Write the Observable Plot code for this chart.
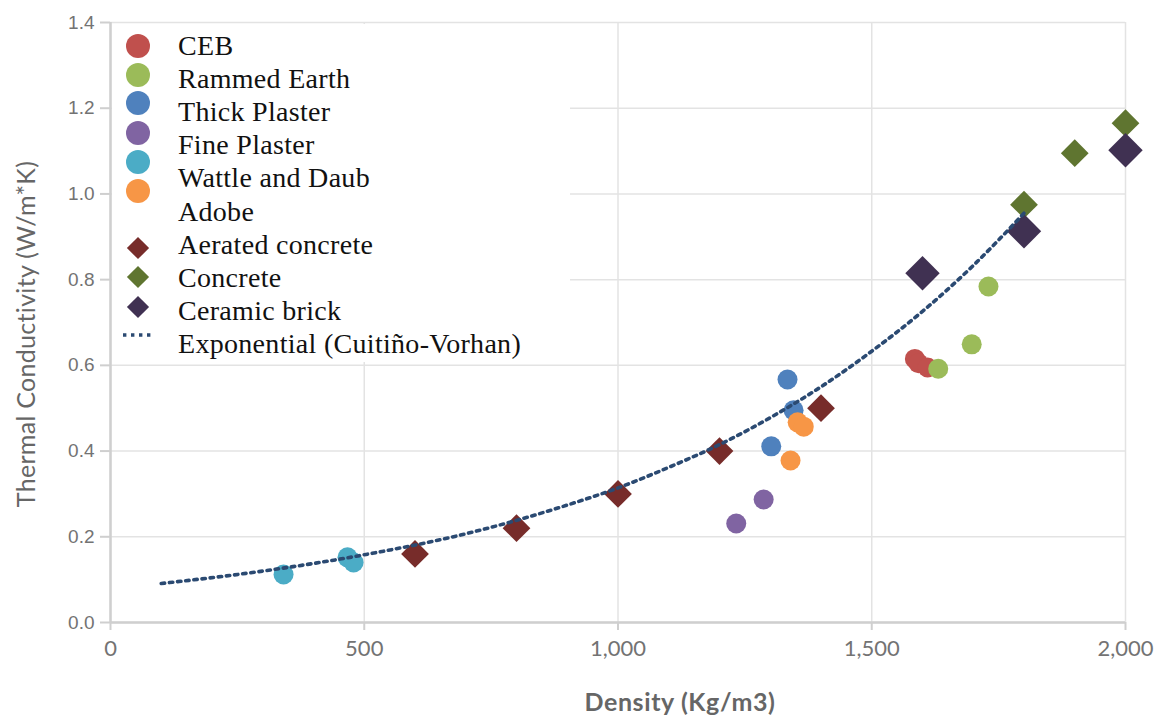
<!DOCTYPE html>
<html><head><meta charset="utf-8">
<script src="https://cdn.jsdelivr.net/npm/d3@7"></script>
<script src="https://cdn.jsdelivr.net/npm/@observablehq/plot@0.6"></script>
<style>
body{margin:0;background:#fff;}
#wrap{position:relative;width:1157px;height:715px;overflow:hidden;}
#legend{position:absolute;left:112px;top:24px;width:458px;height:338px;background:#fff;}
.lt{position:absolute;left:66px;font-family:"Liberation Serif",serif;font-size:28px;letter-spacing:0.3px;color:#111;line-height:1;white-space:nowrap;transform:translateY(-50%);}
#xtitle{position:absolute;left:680px;top:686px;transform:translateX(-50%);font-family:Lato,sans-serif;font-weight:bold;font-size:25px;letter-spacing:0.6px;color:#666;white-space:nowrap;}
#ytitle{position:absolute;left:25px;top:334px;transform:translate(-50%,-50%) rotate(-90deg);font-family:Lato,sans-serif;font-size:25px;letter-spacing:0.3px;color:#666;white-space:nowrap;}
</style></head><body><div id="wrap"></div>
<script>
// ---- data ----
const seriesNames = ["CEB","Rammed Earth","Thick Plaster","Fine Plaster","Wattle and Daub","Adobe","Aerated concrete","Concrete","Ceramic brick"];
const seriesColors = ["#c0504d","#9bbb59","#4f81bd","#8064a2","#4bacc6","#f79646","#772c2a","#5f7530","#403152"];
const seriesSymbols = ["circle","circle","circle","circle","circle","circle","diamond2","diamond2","diamond2"];
const trendName = "Exponential (Cuitiño-Vorhan)";

const cebX = [1585, 1592, 1610];
const cebY = [0.615, 0.605, 0.595];
const rammedX = [1631, 1697, 1730];
const rammedY = [0.592, 0.649, 0.784];
const thickX = [1334, 1346, 1302];
const thickY = [0.567, 0.495, 0.411];
const fineX = [1233, 1287];
const fineY = [0.231, 0.287];
const wattleX = [341, 467, 479];
const wattleY = [0.112, 0.152, 0.140];
const adobeX = [1354, 1366, 1340];
const adobeY = [0.467, 0.457, 0.378];
const aeratedX = [600, 800, 1000, 1200, 1400];
const aeratedY = [0.16, 0.22, 0.30, 0.40, 0.50];
const concreteX = [1800, 1900, 2000];
const concreteY = [0.975, 1.095, 1.165];
const ceramicX = [1600, 1800, 2000];
const ceramicY = [0.815, 0.913, 1.102];

const trendX = [100, 300, 500, 700, 900, 1000, 1100, 1200, 1300, 1400, 1500, 1600, 1700, 1800];
const trendY = [0.091, 0.120, 0.158, 0.207, 0.274, 0.314, 0.362, 0.415, 0.478, 0.550, 0.633, 0.726, 0.833, 0.955];

const xTicks = [0, 500, 1000, 1500, 2000];
const yTicks = [0, 0.2, 0.4, 0.6, 0.8, 1.0, 1.2, 1.4];

// ---- build ----
const seriesX = [cebX, rammedX, thickX, fineX, wattleX, adobeX, aeratedX, concreteX, ceramicX];
const seriesY = [cebY, rammedY, thickY, fineY, wattleY, adobeY, aeratedY, concreteY, ceramicY];
const sizes = [10, 10, 10, 10, 10, 10, 12.5, 12.5, 15.5];
const trend = trendX.map((x, i) => ({x, y: trendY[i]}));

const dotMarks = seriesNames.map((name, s) =>
  Plot.dot(seriesX[s].map((x, i) => ({x, y: seriesY[s][i], series: name})), {
    x: "x", y: "y", r: sizes[s], fill: seriesColors[s], symbol: seriesSymbols[s], stroke: "none"
  })
);

const chart = Plot.plot({
  width: 1157, height: 715,
  marginLeft: 110, marginRight: 32, marginTop: 22, marginBottom: 93,
  x: {domain: [0, 2000]},
  y: {domain: [0, 1.4]},
  style: {background: "white"},
  marks: [
    Plot.gridY(yTicks, {stroke: "#e3e3e3", strokeOpacity: 1, strokeWidth: 1.5}),
    Plot.gridX(xTicks, {stroke: "#e3e3e3", strokeOpacity: 1, strokeWidth: 1.5}),
    Plot.axisY(yTicks, {tickFormat: d3.format(".1f"), tickSize: 10, tickPadding: 6, stroke: "#cfcfcf", strokeWidth: 2, fontSize: 19, fontFamily: "Liberation Sans", label: null}),
    Plot.axisX(xTicks, {tickFormat: d3.format(","), tickSize: 8, tickPadding: 10, stroke: "#cfcfcf", strokeWidth: 2, fontSize: 22, fontFamily: "Lato", label: null}),
    Plot.ruleY([0], {stroke: "#cfcfcf", strokeWidth: 2.5}),
    Plot.ruleX([0], {stroke: "#cfcfcf", strokeWidth: 2.5}),
    ...dotMarks,
    Plot.line(trend, {x: "x", y: "y", stroke: "#2b4a72", strokeWidth: 3.6, strokeDasharray: "3.4,4.8", curve: "monotone-x"})
  ]
});
d3.select(chart).selectAll('g[aria-label="y-axis tick label"], g[aria-label="x-axis tick label"]').attr("fill", "#737373");

const wrap = document.getElementById("wrap");
wrap.appendChild(chart);
chart.style.position = "absolute"; chart.style.left = "0"; chart.style.top = "0";

// titles
const xt = document.createElement("div"); xt.id = "xtitle"; xt.textContent = "Density (Kg/m3)"; wrap.appendChild(xt);
const yt = document.createElement("div"); yt.id = "ytitle"; yt.textContent = "Thermal Conductivity  (W/m*K)"; wrap.appendChild(yt);

// legend
const leg = document.createElement("div"); leg.id = "legend"; wrap.appendChild(leg);
const names = [...seriesNames, trendName];
const symY = [22, 51, 79, 109, 138, 167, 224, 253, 283, 311];
names.forEach((n, i) => {
  const t = document.createElement("div"); t.className = "lt"; t.textContent = n;
  t.style.top = (22 + 33.1 * i) + "px"; leg.appendChild(t);
});
const symSvg = d3.create("svg").attr("width", 60).attr("height", 338).style("position", "absolute").style("left", 0).style("top", 0);
seriesNames.forEach((n, i) => {
  if (seriesSymbols[i] === "circle") {
    symSvg.append("circle").attr("cx", 26).attr("cy", symY[i]).attr("r", 12).attr("fill", seriesColors[i]);
  } else {
    symSvg.append("path").attr("transform", `translate(26,${symY[i]})`).attr("d", d3.symbol(d3.symbolDiamond2, Math.PI * 10 * 10)()).attr("fill", seriesColors[i]);
  }
});
symSvg.append("line").attr("x1", 11).attr("x2", 42).attr("y1", symY[9]).attr("y2", symY[9]).attr("stroke", "#2b4a72").attr("stroke-width", 3.4).attr("stroke-dasharray", "3.4,4.6");
leg.appendChild(symSvg.node());
</script></body></html>
